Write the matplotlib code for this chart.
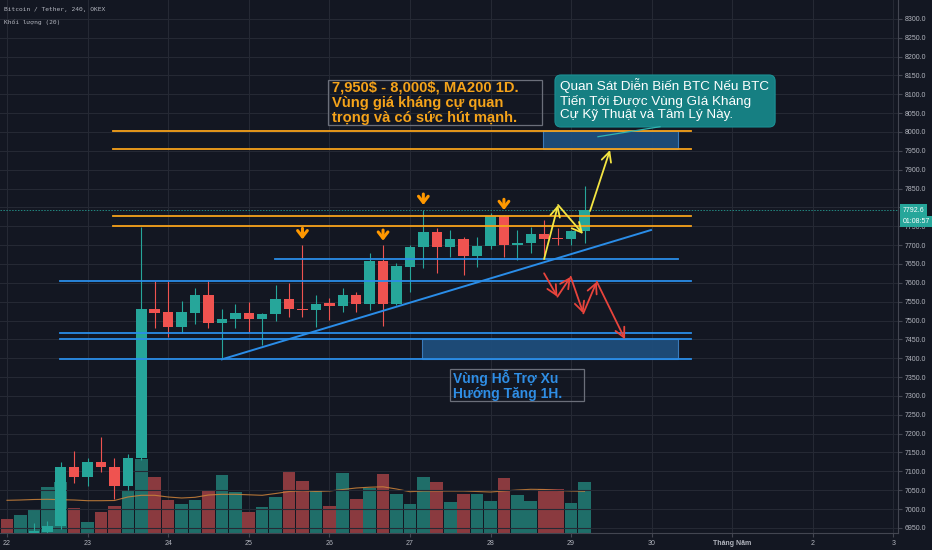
import matplotlib
matplotlib.use("Agg")
import matplotlib.pyplot as plt
import matplotlib.transforms as mtransforms
from matplotlib.patches import Rectangle, FancyBboxPatch
import numpy as np

plt.rcParams['font.family'] = ['Liberation Sans', 'DejaVu Sans']

# ---------------- data (4H candles, BTC/USDT OKEX) ----------------
opens  = [6925, 6915, 6930, 6940, 6955, 7112, 7084, 7126, 7112, 7061,
          7135, 7530, 7522, 7483, 7521, 7568, 7493, 7503, 7521, 7503,
          7517, 7557, 7531, 7528, 7546, 7538, 7568, 7543, 7659, 7544,
          7643, 7694, 7734, 7696, 7715, 7672, 7698, 7777, 7700, 7705,
          7729, 7716, 7715, 7738]
highs  = [6935, 6932, 6963, 6968, 7125, 7155, 7135, 7190, 7135, 7146,
          7749, 7605, 7605, 7552, 7585, 7607, 7530, 7544, 7550, 7521,
          7593, 7600, 7700, 7568, 7560, 7585, 7576, 7680, 7700, 7653,
          7700, 7793, 7745, 7740, 7722, 7721, 7785, 7780, 7740, 7749,
          7767, 7745, 7740, 7857]
lows   = [6900, 6905, 6920, 6930, 6948, 7070, 7060, 7099, 7026, 7050,
          7130, 7481, 7457, 7466, 7491, 7479, 7397, 7479, 7470, 7435,
          7499, 7508, 7508, 7484, 7501, 7523, 7523, 7528, 7485, 7540,
          7576, 7638, 7625, 7669, 7621, 7641, 7690, 7669, 7660, 7680,
          7674, 7700, 7700, 7705]
closes = [6915, 6928, 6941, 6956, 7112, 7084, 7126, 7111, 7061, 7135,
          7530, 7521, 7482, 7522, 7568, 7494, 7503, 7521, 7503, 7517,
          7557, 7531, 7529, 7544, 7538, 7568, 7543, 7659, 7544, 7645,
          7696, 7734, 7696, 7715, 7672, 7698, 7777, 7700, 7706, 7729,
          7715, 7715, 7738, 7792.6]
volumes = [411, 540, 720, 1371, 1530, 741, 339, 621, 819, 1290,
           2235, 1689, 990, 861, 990, 1290, 1731, 1239, 639, 789,
           1089, 1839, 1569, 1281, 810, 1809, 1020, 1341, 1761, 1170,
           870, 1689, 1530, 921, 1170, 1170, 969, 1650, 1140, 960,
           1320, 1311, 909, 1539]
vol_ma = [981, 990, 1005, 1011, 999, 990, 969, 969, 975, 1080,
          1131, 1131, 1080, 1050, 1071, 1140, 1161, 1161, 1146, 1131,
          1185, 1245, 1269, 1245, 1260, 1305, 1350, 1374, 1386, 1320,
          1239, 1260, 1260, 1260, 1260, 1245, 1230, 1260, 1290, 1311,
          1305, 1275, 1260, 1251]

day_ticks = [0, 6, 12, 18, 24, 30, 36, 42, 48, 54, 60, 66]
day_labels = ['22', '23', '24', '25', '26', '27', '28', '29', '30', 'Tháng Năm', '2', '3']
price_ticks = np.arange(6950, 8301, 50)
last_price = 7792.6

# drawings (index, price)
resist_lines = [8003, 7955, 7778, 7751.5]
support_top_line = 7663
support_lines = [7605.6, 7467.6, 7451, 7397]
trend_x = [16, 47.95]
trend_y = [7397, 7740]
marker_idx = [22, 28, 31, 37]
marker_tail = [7744.6, 7740, 7835.5, 7821.5]
marker_tip = [7715.4, 7711.7, 7806.4, 7793]
yellow_x = [39.99, 41.03, 42.89]
yellow_y = [7663, 7806.4, 7729.4]
yellow2_x = [43.41, 44.9]
yellow2_y = [7790.5, 7952.3]
red_x = [39.99, 40.98, 41.97, 42.91, 43.91, 46.02]
red_y = [7625.2, 7563.1, 7616, 7519, 7603, 7450]

# ---------------- styling ----------------
BG = '#131722'
GRID = '#252934'
UP = '#26a69a'
DOWN = '#ef5350'
TXT = '#b2b5be'
BORDER = '#434651'

fig = plt.figure(figsize=(9.32, 5.5), dpi=100, facecolor=BG)
ax_vol = fig.add_axes([0, 17 / 550, 898 / 932, 533 / 550])
ax_vol.set_facecolor(BG)
ax = ax_vol.twinx()

idx = np.arange(len(opens))
o = np.array(opens); c = np.array(closes)
h = np.array(highs); l = np.array(lows)
up = c >= o
cols = np.where(up, UP, DOWN)

ax.set_xlim(-0.52, 66.34)
ax.set_ylim(6936.4, 8350.1)
ax_vol.set_ylim(0, 15990)

# grid
ax_vol.set_xticks(day_ticks)
ax_vol.set_xticklabels(day_labels)
ax_vol.grid(axis='x', color=GRID, lw=0.8)
ax_vol.set_axisbelow(True)
ax.set_yticks(price_ticks)
ax.set_yticklabels(['' if abs(p - last_price) < 15 else f'{p:.1f}' for p in price_ticks])
ax.grid(axis='y', color=GRID, lw=0.8, zorder=0)
ax.set_axisbelow(True)

# volume
vcols = np.where(up, '#1f6e69', '#8a3a3f')
ax_vol.bar(idx, volumes, width=0.94, color=vcols, zorder=2)
ax_vol.plot(idx, vol_ma, color='#cf843a', lw=0.8, alpha=0.85, zorder=3)

# candles
ax.vlines(idx, l, h, colors=cols, lw=0.8, zorder=3)
body_lo = np.minimum(o, c)
body_h = np.maximum(np.abs(c - o), 2.6)
ax.bar(idx, body_h, bottom=body_lo, width=0.78, color=cols, zorder=4)

# current price line
ax.axhline(last_price, color=UP, lw=0.7, ls=(0, (1.5, 1.5)), alpha=0.8, zorder=2)

# resistance / support lines
for p in resist_lines:
    ax.plot([7.89, 50.93], [p, p], color='#f7a21b', lw=1.3, zorder=5)
ax.plot([19.96, 49.96], [support_top_line] * 2, color='#2a8de8', lw=1.3, zorder=5)
for p in support_lines:
    ax.plot([3.95, 50.93], [p, p], color='#2a8de8', lw=1.3, zorder=5)

# zones
ax.add_patch(Rectangle((39.91, 7954.9), 49.96 - 39.91, 8002.6 - 7954.9,
                       fc='#1e4d7b', ec='#3d7fc0', lw=0.8, alpha=0.95, zorder=4.5))
ax.add_patch(Rectangle((30.9, 7397), 49.96 - 30.9, 7451 - 7397,
                       fc='#1e4d7b', ec='#3d7fc0', lw=0.8, alpha=0.95, zorder=4.5))

# trend line
ax.plot(trend_x, trend_y, color='#2a8de8', lw=1.4, zorder=5)

# orange markers
for xi, pt, pb in zip(marker_idx, marker_tail, marker_tip):
    ax.annotate('', xy=(xi, pb), xytext=(xi, pt),
                arrowprops=dict(arrowstyle='->,head_length=0.45,head_width=0.35',
                                color='#ff9800', lw=2.2, shrinkA=0, shrinkB=0,
                                mutation_scale=10), zorder=6)

# yellow scenario
arr = dict(arrowstyle='->,head_length=0.7,head_width=0.35', lw=1.3,
           shrinkA=0, shrinkB=0, mutation_scale=10)
for k in range(len(yellow_x) - 1):
    ax.annotate('', xy=(yellow_x[k + 1], yellow_y[k + 1]), xytext=(yellow_x[k], yellow_y[k]),
                arrowprops=dict(color='#f4e542', **arr), zorder=6)
ax.annotate('', xy=(yellow2_x[1], yellow2_y[1]), xytext=(yellow2_x[0], yellow2_y[0]),
            arrowprops=dict(color='#f4e542', **arr), zorder=6)
# red scenario
for k in range(len(red_x) - 1):
    ax.annotate('', xy=(red_x[k + 1], red_y[k + 1]), xytext=(red_x[k], red_y[k]),
                arrowprops=dict(color='#e8443c', **arr), zorder=6)

# text box (orange)
ax.add_patch(Rectangle((23.9, 8018.6), 39.84 - 23.9, 8137.9 - 8018.6,
                       fc='none', ec='#6b6f7a', lw=0.9, zorder=6))
ax.text(24.2, 8136, '7,950$ - 8,000$, MA200 1D.\nVùng giá kháng cự quan\ntrọng và có sức hút mạnh.',
        color='#f5a31a', fontsize=10.6, fontweight='bold', va='top', ha='left',
        linespacing=1.1, zorder=7, parse_math=False)

# callout (teal)
ax.add_patch(FancyBboxPatch((40.8, 8013.3), 57.19 - 40.8, 8151.2 - 8013.3,
                            boxstyle='round,pad=0,rounding_size=0.45', mutation_aspect=35.6,
                            fc='#167f82', ec='#1b9094', lw=0.8, zorder=6))
ax.plot([44.0, 48.62], [7987.5, 8014], color='#2fb3b0', lw=0.9, zorder=6)
ax.text(41.18, 8142, 'Quan Sát Diễn Biến BTC Nếu BTC\nTiến Tới Được Vùng GIá Kháng\nCự Kỹ Thuật và Tâm Lý Này.',
        color='white', fontsize=9.7, va='top', ha='left', linespacing=1.12, zorder=7,
        parse_math=False)

# text box (blue)
ax.add_patch(Rectangle((32.99, 7286.5), 42.96 - 32.99, 7371.4 - 7286.5,
                       fc='none', ec='#6b6f7a', lw=0.9, zorder=6))
ax.text(33.2, 7368, 'Vùng Hỗ Trợ Xu\nHướng Tăng 1H.',
        color='#2f8ee5', fontsize=10, fontweight='bold', va='top', ha='left',
        linespacing=1.02, zorder=7, parse_math=False)

# axes cosmetics
for s in ['top', 'left', 'bottom']:
    ax.spines[s].set_visible(False)
ax.spines['right'].set_color(BORDER)
for s in ['top', 'left', 'right']:
    ax_vol.spines[s].set_visible(False)
ax_vol.spines['bottom'].set_color(BORDER)
ax_vol.yaxis.set_visible(False)
ax.tick_params(axis='y', which='both', color=BORDER, labelcolor=TXT, labelsize=5, length=3, pad=2)
ax_vol.tick_params(axis='x', color=BORDER, labelcolor=TXT, labelsize=5, length=3, pad=2)
for lab in ax_vol.get_xticklabels():
    if lab.get_text() == 'Tháng Năm':
        lab.set_fontweight('bold')

# price tags
tr = mtransforms.blended_transform_factory(ax.transAxes, ax.transData)
ax.text(1.005, last_price, f'{last_price:.1f}', transform=tr, color='white', fontsize=5,
        va='center', ha='left', clip_on=False, zorder=10,
        bbox=dict(boxstyle='square,pad=0.35', fc=UP, ec='none'))
ax.text(1.005, last_price - 31, '01:08:57', transform=tr, color='white', fontsize=5,
        va='center', ha='left', clip_on=False, zorder=10,
        bbox=dict(boxstyle='square,pad=0.3', fc=UP, ec='none'))

# header
fig.text(4 / 932, 1 - 10 / 550, 'Bitcoin / Tether, 240, OKEX', color=TXT, fontsize=4.5,
         family=['DejaVu Sans Mono', 'DejaVu Sans'], va='center')
fig.text(4 / 932, 1 - 22 / 550, 'Khối lượng (20)', color=TXT, fontsize=4.5,
         family=['DejaVu Sans Mono', 'DejaVu Sans'], va='center')

fig.savefig('out.png', dpi=100, facecolor=BG)
